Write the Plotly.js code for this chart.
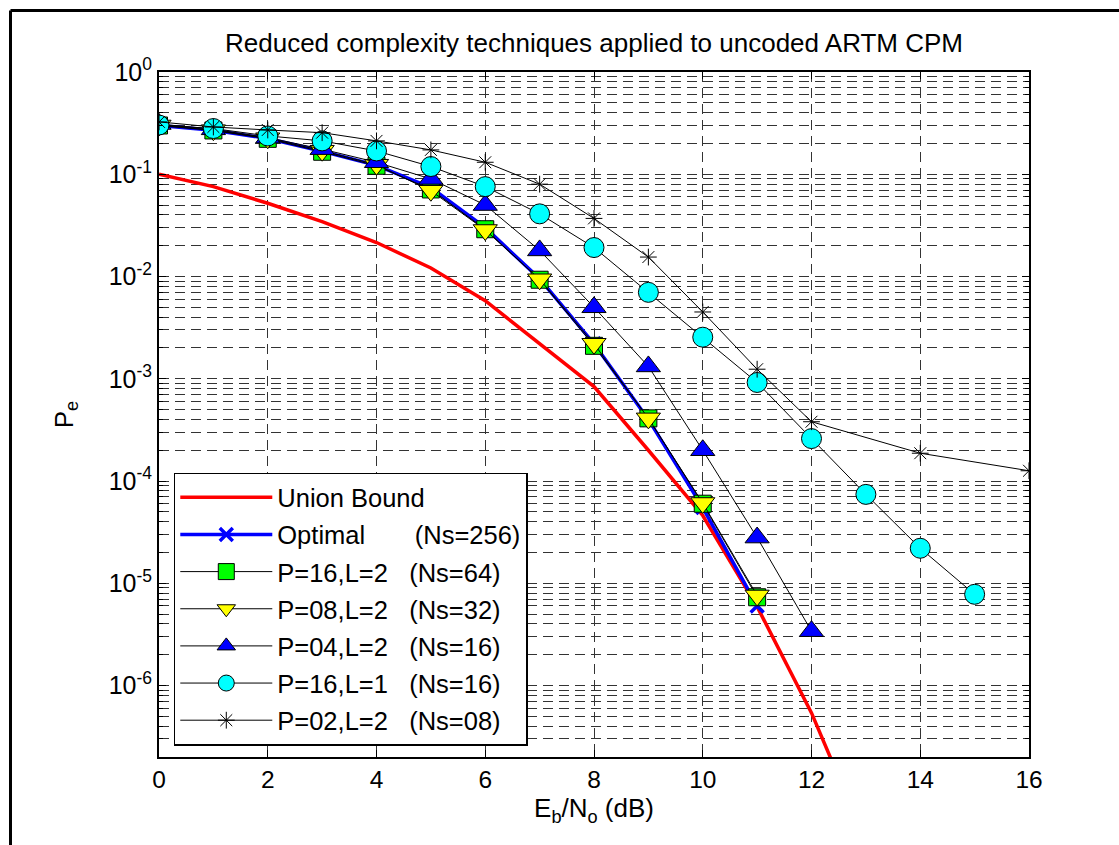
<!DOCTYPE html>
<html>
<head>
<meta charset="utf-8">
<script src="https://cdn.plot.ly/plotly-3.0.1.min.js"></script>
<style>
  html, body { margin: 0; padding: 0; background: #ffffff; }
  #chart { width: 1119px; height: 845px; }
</style>
</head>
<body>
<div id="chart"></div>
<script>
// ---- data ----
const unionX = [0, 1, 2, 3, 4, 5, 6, 7, 8, 9, 10, 11, 12, 13];
const unionPe = [0.1, 0.0757, 0.052, 0.0344, 0.0215, 0.0121, 0.0058, 0.0022, 8.4e-4, 2.0e-4, 4.6e-5, 5.9e-6, 5.4e-7, 3.0e-8];

const optX = [0, 1, 2, 3, 4, 5, 6, 7, 8, 9, 10, 11];
const optPe = [0.30, 0.27, 0.224, 0.168, 0.122, 0.074, 0.030, 0.0095, 0.0022, 4.0e-4, 5.5e-5, 6.0e-6];

const p16l2X = [0, 1, 2, 3, 4, 5, 6, 7, 8, 9, 10, 11];
const p16l2Pe = [0.30, 0.268, 0.222, 0.166, 0.121, 0.071, 0.029, 0.0093, 0.0021, 4.1e-4, 6.0e-5, 7.3e-6];

const p08l2X = [0, 1, 2, 3, 4, 5, 6, 7, 8, 9, 10, 11];
const p08l2Pe = [0.30, 0.27, 0.225, 0.17, 0.124, 0.069, 0.0285, 0.0094, 0.0022, 4.1e-4, 6.1e-5, 7.6e-6];

const p04l2X = [0, 1, 2, 3, 4, 5, 6, 7, 8, 9, 10, 11, 12];
const p04l2Pe = [0.31, 0.275, 0.228, 0.176, 0.131, 0.090, 0.050, 0.0180, 0.0050, 0.00132, 2.0e-4, 2.8e-5, 3.4e-6];

const p16l1X = [0, 1, 2, 3, 4, 5, 6, 7, 8, 9, 10, 11, 12, 13, 14, 15];
const p16l1Pe = [0.303, 0.28, 0.237, 0.212, 0.169, 0.119, 0.0757, 0.041, 0.0192, 0.0070, 0.00255, 9.2e-4, 2.6e-4, 7.4e-5, 2.2e-5, 7.8e-6];

const p02l2X = [0, 1, 2, 3, 4, 5, 6, 7, 8, 9, 10, 11, 12, 14, 16];
const p02l2Pe = [0.325, 0.29, 0.271, 0.255, 0.212, 0.173, 0.131, 0.080, 0.037, 0.0155, 0.0045, 0.00124, 3.8e-4, 1.87e-4, 1.26e-4];

const seriesNames = [
  'Union Bound',
  'Optimal\u00A0\u00A0\u00A0\u00A0\u00A0\u00A0\u00A0(Ns=256)',
  'P=16,L=2\u00A0\u00A0\u00A0(Ns=64)',
  'P=08,L=2\u00A0\u00A0\u00A0(Ns=32)',
  'P=04,L=2\u00A0\u00A0\u00A0(Ns=16)',
  'P=16,L=1\u00A0\u00A0\u00A0(Ns=16)',
  'P=02,L=2\u00A0\u00A0\u00A0(Ns=08)'
];

const yTickVals = [1e-6, 1e-5, 1e-4, 1e-3, 1e-2, 1e-1, 1];
const yTickText = ['10<sup>-6</sup>', '10<sup>-5</sup>', '10<sup>-4</sup>', '10<sup>-3</sup>', '10<sup>-2</sup>', '10<sup>-1</sup>', '10<sup>0</sup>'];

const titleText = 'Reduced complexity techniques applied to uncoded ARTM CPM';
const xTitle = 'E<sub>b</sub>/N<sub>o</sub> (dB)';
const yTitle = 'P<sub>e</sub>';

// ---- traces ----
const thin = { color: '#000000', width: 1 };
const traces = [
  { x: unionX, y: unionPe, name: seriesNames[0], mode: 'lines',
    line: { color: '#ff0000', width: 3.5 }, legendgroup: 'g0' },
  { x: optX, y: optPe, name: seriesNames[1], mode: 'lines+markers',
    line: { color: '#0000ff', width: 3.5 },
    marker: { symbol: 'x-thin-open', size: 13, color: '#0000ff', line: { color: '#0000ff', width: 3.5 } }, legendgroup: 'g1' },
  { x: p16l2X, y: p16l2Pe, name: seriesNames[2], mode: 'lines+markers', line: thin,
    marker: { symbol: 'square', size: 17, color: '#00ff00', line: { color: '#000000', width: 1 } }, legendgroup: 'g2' },
  { x: p08l2X, y: p08l2Pe, name: seriesNames[3], mode: 'lines+markers', line: thin,
    marker: { symbol: 'triangle-down', size: 21, color: '#ffff00', line: { color: '#000000', width: 1 } }, legendgroup: 'g3' },
  { x: p04l2X, y: p04l2Pe, name: seriesNames[4], mode: 'lines+markers', line: thin,
    marker: { symbol: 'triangle-up', size: 21, color: '#0000ff', line: { color: '#000000', width: 1 } }, legendgroup: 'g4' },
  { x: p16l1X, y: p16l1Pe, name: seriesNames[5], mode: 'lines+markers', line: thin,
    marker: { symbol: 'circle', size: 20, color: '#00ffff', line: { color: '#000000', width: 1 } }, legendgroup: 'g5' },
  { x: p02l2X, y: p02l2Pe, name: seriesNames[6], mode: 'lines+markers', line: thin,
    marker: { symbol: 'asterisk-open', size: 14, color: '#000000', line: { color: '#000000', width: 1 } }, legendgroup: 'g6' }
].map(t => Object.assign({ type: 'scatter', cliponaxis: true }, t));

const FONT = 'Arial, "Liberation Sans", Helvetica, sans-serif';
const gridColor = '#333333';

const layout = {
  width: 1119, height: 845,
  paper_bgcolor: '#ffffff', plot_bgcolor: '#ffffff',
  margin: { l: 159, r: 90, t: 72, b: 88, pad: 0 },
  font: { family: FONT, size: 24, color: '#000000' },
  title: { text: titleText, x: 0.5, xref: 'paper', xanchor: 'center',
           y: 1 - 43 / 845, yref: 'container', yanchor: 'middle',
           font: { family: FONT, size: 26, color: '#000000' } },
  showlegend: true,
  legend: {
    x: 0.017, y: 0.415, xanchor: 'left', yanchor: 'top',
    bgcolor: '#ffffff', bordercolor: '#000000', borderwidth: 1.5,
    font: { family: FONT, size: 25.5, color: '#000000' },
    itemwidth: 92, tracegroupgap: 1, traceorder: 'grouped'
  },
  xaxis: {
    range: [0, 16], dtick: 2, tick0: 0,
    showgrid: true, gridcolor: gridColor, gridwidth: 1, griddash: '10px,6px',
    zeroline: false,
    showline: true, linecolor: '#000000', linewidth: 2, mirror: 'ticks',
    ticks: 'inside', ticklen: 7, tickwidth: 1, tickcolor: '#000000',
    tickfont: { family: FONT, size: 24.5, color: '#000000' },
    title: { text: xTitle, standoff: 5, font: { family: FONT, size: 26, color: '#000000' } }
  },
  yaxis: {
    type: 'log', range: [Math.log10(2e-7), 0],
    tickvals: yTickVals, ticktext: yTickText,
    showgrid: true, gridcolor: gridColor, gridwidth: 1, griddash: '10px,6px',
    zeroline: false,
    showline: true, linecolor: '#000000', linewidth: 2, mirror: 'ticks',
    ticks: 'inside', ticklen: 7, tickwidth: 1, tickcolor: '#000000',
    tickfont: { family: FONT, size: 25, color: '#000000' },
    minor: { dtick: 'D1', showgrid: true, gridcolor: gridColor, gridwidth: 1, griddash: '10px,6px',
             ticks: 'inside', ticklen: 4, tickcolor: '#000000' },
    title: { text: yTitle, standoff: 28, font: { family: FONT, size: 26, color: '#000000' } }
  },
  shapes: [
    { type: 'line', xref: 'paper', yref: 'paper', layer: 'above',
      x0: (10.5 - 159) / 870, x1: (1130 - 159) / 870, y0: (757 - 10.5) / 685, y1: (757 - 10.5) / 685,
      line: { color: '#000000', width: 3 } },
    { type: 'line', xref: 'paper', yref: 'paper', layer: 'above',
      x0: (10.5 - 159) / 870, x1: (10.5 - 159) / 870, y0: (757 - 10.5) / 685, y1: (757 - 860) / 685,
      line: { color: '#000000', width: 3 } }
  ]
};

Plotly.newPlot('chart', traces, layout, { displayModeBar: false, staticPlot: true });
</script>
</body>
</html>
